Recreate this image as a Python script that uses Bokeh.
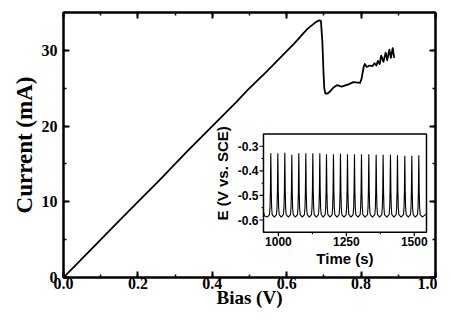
import math
from bokeh.plotting import figure
from bokeh.models import (Range1d, LinearAxis, SingleIntervalTicker, PrintfTickFormatter,
                          CustomJSTickFormatter)
from bokeh.core.properties import value
from bokeh.embed import file_html
from bokeh.resources import INLINE

# ---------------- main curve data ----------------
bias_v = [0.0, 0.05, 0.10, 0.15, 0.20, 0.257, 0.30, 0.337, 0.40, 0.465, 0.496,
          0.55, 0.60, 0.62, 0.655, 0.675, 0.686, 0.692, 0.696, 0.699, 0.701,
          0.704, 0.710, 0.717, 0.726, 0.735, 0.748, 0.766, 0.779, 0.797, 0.801,
          0.807, 0.810, 0.815, 0.823, 0.830, 0.836, 0.841, 0.845, 0.850, 0.854,
          0.860, 0.866, 0.870, 0.876, 0.880, 0.885, 0.889]
current_ma = [0.0, 2.5, 5.0, 7.5, 10.0, 12.8, 15.0, 16.9, 20.0, 23.2, 24.8,
              27.4, 29.9, 30.9, 32.8, 33.6, 33.95, 33.9, 31.0, 27.0, 25.0,
              24.3, 24.3, 24.6, 25.1, 25.4, 25.2, 25.5, 25.8, 25.7, 26.2,
              27.8, 28.2, 27.8, 28.0, 27.9, 28.3, 28.0, 28.6, 28.2, 29.3,
              28.5, 29.7, 28.7, 30.1, 29.0, 30.3, 29.0]

main_x_range = (0.0, 1.0)
main_y_range = (0.0, 35.0)

# ---------------- inset data ----------------
inset_t_range = (945.0, 1545.0)
inset_e_range = (-0.65, -0.25)
inset_t_ticks = [1000, 1250, 1500]
inset_t_minor = [1125, 1375]
inset_e_ticks = [-0.3, -0.4, -0.5, -0.6]
inset_e_minor = [-0.35, -0.45, -0.55]
peak_t = [972.0, 997.8, 1023.5, 1049.3, 1075.0, 1100.8, 1126.6, 1152.3, 1176.9,
          1202.6, 1228.4, 1254.2, 1279.9, 1305.7, 1332.7, 1359.7, 1385.4,
          1412.4, 1438.2, 1465.2, 1490.9, 1516.7]
peak_e = [-0.329, -0.329, -0.326, -0.335, -0.329, -0.329, -0.329, -0.329,
          -0.333, -0.333, -0.331, -0.333, -0.333, -0.333, -0.333, -0.335,
          -0.335, -0.335, -0.337, -0.339, -0.339, -0.337]
trough_e = -0.588
# spike profile around each peak: time offset (s) and fraction of peak height
spike_dt = [-5.0, -3.0, -1.5, -0.6, 0.0, 0.6, 1.5, 3.0, 5.0]
spike_frac = [0.04, 0.15, 0.42, 0.80, 1.0, 0.80, 0.42, 0.15, 0.04]
start_t, start_e = [945.0, 949.0], [-0.566, -0.584]
end_t, end_e = [1545.0], [-0.574]

# inset placement as fractions of the main frame (style)
fx0, fx1 = 0.5376, 0.9758
fy0, fy1 = 0.1705, 0.5417

# build inset polyline from the values above
it, ie = list(start_t), list(start_e)
prev = 946.0
for pt, pe in zip(peak_t, peak_e):
    it.append((prev + pt) / 2.0)
    ie.append(trough_e)
    for dt, fr in zip(spike_dt, spike_frac):
        it.append(pt + dt)
        ie.append(trough_e + fr * (pe - trough_e))
    prev = pt
it.append(prev + 13.0)
ie.append(trough_e)
it += end_t
ie += end_e

t0, t1 = inset_t_range
e0, e1 = inset_e_range
span_t = (t1 - t0) / (fx1 - fx0)
span_e = (e1 - e0) / (fy1 - fy0)
ix_start = t0 - fx0 * span_t
iy_start = e0 - fy0 * span_e

SERIF = "Liberation Serif"
SANS = "Liberation Sans"

p = figure(width=437, height=310, output_backend="svg", toolbar_location=None,
           x_range=Range1d(*main_x_range), y_range=Range1d(*main_y_range),
           min_border_left=63, min_border_right=2, min_border_top=12,
           min_border_bottom=20)
p.extra_x_ranges = {"ix": Range1d(ix_start, ix_start + span_t)}
p.extra_y_ranges = {"iy": Range1d(iy_start, iy_start + span_e)}

p.grid.visible = False
p.outline_line_color = "black"
p.outline_line_width = 2
p.background_fill_color = "white"
p.border_fill_color = "white"

xt = SingleIntervalTicker(interval=0.2, num_minor_ticks=2)
yt = SingleIntervalTicker(interval=10, num_minor_ticks=2)


def style_axis(ax, labels=True):
    ax.axis_line_width = 2
    ax.axis_line_color = "black"
    ax.major_tick_in = 6
    ax.major_tick_out = 0
    ax.minor_tick_in = 3
    ax.minor_tick_out = 0
    ax.major_tick_line_width = 2
    ax.minor_tick_line_width = 1.5
    if labels:
        ax.major_label_text_font = SERIF
        ax.major_label_text_font_style = "bold"
        ax.major_label_text_font_size = "16px"
        ax.major_label_text_color = "black"
        ax.axis_label_text_font = SERIF
        ax.axis_label_text_font_style = "bold"
        ax.axis_label_text_color = "black"
    else:
        ax.formatter = CustomJSTickFormatter(code="return '';")
        ax.major_label_text_font_size = "1px"
        ax.major_label_standoff = 0


p.xaxis.ticker = xt
p.xaxis.formatter = PrintfTickFormatter(format="%.1f")
p.yaxis.ticker = yt
style_axis(p.xaxis[0])
style_axis(p.yaxis[0])
p.xaxis.axis_label = "Bias (V)"
p.xaxis.axis_label_text_font_size = "19px"
p.xaxis.major_label_standoff = 0
p.xaxis.axis_label_standoff = -5
p.yaxis.axis_label = "Current (mA)"
p.yaxis.axis_label_text_font_size = "23px"
p.yaxis.major_label_standoff = 6
p.yaxis.axis_label_standoff = 2

top = LinearAxis(ticker=xt)
style_axis(top, labels=False)
p.add_layout(top, "above")
right = LinearAxis(ticker=yt)
style_axis(right, labels=False)
p.add_layout(right, "right")

# main curve
p.line(bias_v, current_ma, line_color="black", line_width=1.8, line_join="round")

# inset frame
p.quad(left=[t0], right=[t1], bottom=[e0], top=[e1], fill_color="white",
       line_color="black", line_width=1.5, x_range_name="ix", y_range_name="iy")
# inset curve
p.line(it, ie, line_color="black", line_width=1.1, x_range_name="ix", y_range_name="iy")

# inset ticks
p.ray(x=inset_t_ticks, y=[e0] * len(inset_t_ticks), length=4, length_units="screen",
      angle=-math.pi / 2, line_color="black", line_width=1.2, x_range_name="ix", y_range_name="iy")
p.ray(x=inset_t_minor, y=[e0] * len(inset_t_minor), length=2, length_units="screen",
      angle=-math.pi / 2, line_color="black", line_width=1.0, x_range_name="ix", y_range_name="iy")
p.ray(x=[t0] * len(inset_e_ticks), y=inset_e_ticks, length=4, length_units="screen",
      angle=math.pi, line_color="black", line_width=1.2, x_range_name="ix", y_range_name="iy")
p.ray(x=[t0] * len(inset_e_minor), y=inset_e_minor, length=2, length_units="screen",
      angle=math.pi, line_color="black", line_width=1.0, x_range_name="ix", y_range_name="iy")

# inset tick labels
p.text(x=inset_t_ticks, y=[e0] * len(inset_t_ticks), text=[str(v) for v in inset_t_ticks],
       y_offset=5, text_align="center", text_baseline="top", text_font=value(SANS),
       text_font_style="bold", text_font_size="12px", text_color="black",
       x_range_name="ix", y_range_name="iy")
p.text(x=[t0] * len(inset_e_ticks), y=inset_e_ticks, text=["%.1f" % v for v in inset_e_ticks],
       x_offset=-5, text_align="right", text_baseline="middle", text_font=value(SANS),
       text_font_style="bold", text_font_size="12px", text_color="black",
       x_range_name="ix", y_range_name="iy")
# inset axis labels
p.text(x=[(t0 + t1) / 2.0], y=[e0], text=["Time (s)"], y_offset=18,
       text_align="center", text_baseline="top", text_font=value(SANS),
       text_font_style="bold", text_font_size="15px", text_color="black",
       x_range_name="ix", y_range_name="iy")
p.text(x=[t0], y=[-0.41], text=["E (V vs. SCE)"], x_offset=-41, angle=math.pi / 2,
       text_align="center", text_baseline="middle", text_font=value(SANS),
       text_font_style="bold", text_font_size="15px", text_color="black",
       x_range_name="ix", y_range_name="iy")

open("out.html", "w").write(file_html(p, INLINE))
